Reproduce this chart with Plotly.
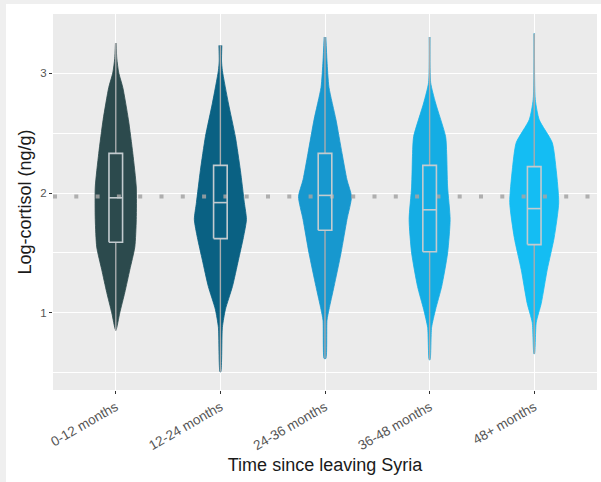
import plotly.graph_objects as go

# Groups on the x axis
categories = ["0-12 months", "12-24 months", "24-36 months", "36-48 months", "48+ months"]
violin_colors = ["#2c4a4d", "#0a6183", "#1798cf", "#14ade4", "#14bdf3"]

# Violin outlines: log-cortisol levels and density half-widths (category units)
dens_y_1 = [3.25, 3.12, 3.00, 2.88, 2.61, 2.33, 2.05, 1.78, 1.55, 1.36, 1.17, 1.00, 0.86]
dens_w_1 = [0.003, 0.010, 0.029, 0.067, 0.121, 0.163, 0.196, 0.196, 0.182, 0.134, 0.086, 0.038, 0.003]
dens_y_2 = [3.23, 3.10, 3.02, 2.75, 2.47, 2.19, 1.92, 1.78, 1.63, 1.44, 1.22, 1.03, 0.88, 0.51]
dens_w_2 = [0.014, 0.011, 0.019, 0.076, 0.143, 0.191, 0.229, 0.249, 0.220, 0.172, 0.115, 0.048, 0.019, 0.004]
dens_y_3 = [3.30, 3.10, 2.88, 2.61, 2.33, 2.11, 1.97, 1.78, 1.50, 1.22, 1.03, 0.94, 0.62]
dens_w_3 = [0.008, 0.019, 0.038, 0.105, 0.163, 0.210, 0.253, 0.210, 0.153, 0.086, 0.038, 0.019, 0.008]
dens_y_4 = [3.30, 2.92, 2.75, 2.47, 2.33, 2.05, 1.78, 1.50, 1.22, 1.03, 0.88, 0.61]
dens_w_4 = [0.004, 0.010, 0.057, 0.153, 0.163, 0.172, 0.196, 0.172, 0.115, 0.057, 0.019, 0.004]
dens_y_5 = [3.33, 2.78, 2.61, 2.42, 2.19, 1.92, 1.63, 1.36, 1.08, 0.92, 0.66]
dens_w_5 = [0.003, 0.010, 0.048, 0.172, 0.210, 0.234, 0.191, 0.124, 0.067, 0.019, 0.003]

# Box-plot summaries per group
q1 = [1.59, 1.62, 1.69, 1.51, 1.57]
median = [1.96, 1.92, 1.98, 1.86, 1.87]
q3 = [2.33, 2.23, 2.33, 2.23, 2.22]
whisker_lo = [0.85, 0.51, 0.62, 0.61, 0.66]
whisker_hi = [3.25, 3.23, 3.30, 3.30, 3.33]

# Overall reference level (dotted line)
overall_ref = 1.97

y_ticks = [1, 2, 3]
y_minor = [0.5, 1.5, 2.5, 3.5]

dens_y = [dens_y_1, dens_y_2, dens_y_3, dens_y_4, dens_y_5]
dens_w = [dens_w_1, dens_w_2, dens_w_3, dens_w_4, dens_w_5]

BOX_HALF = 0.065
FONT = "Liberation Sans, Arial, sans-serif"

fig = go.Figure()

# Violins
for i, (ys, ws) in enumerate(zip(dens_y, dens_w)):
    xs = [i + w for w in ws] + [i - w for w in reversed(ws)]
    yy = list(ys) + list(reversed(ys))
    fig.add_trace(go.Scatter(
        x=xs, y=yy, mode="lines", fill="toself",
        fillcolor=violin_colors[i],
        line=dict(color=violin_colors[i], width=0.8, shape="spline", smoothing=0.6),
        hoverinfo="skip", showlegend=False,
    ))

# Dotted reference line
fig.add_trace(go.Scatter(
    x=[-0.6, len(categories) - 0.4], y=[overall_ref, overall_ref], mode="lines",
    line=dict(color="rgba(165,165,165,0.85)", width=4, dash="4px,17.3px"),
    hoverinfo="skip", showlegend=False,
))

# Whiskers
wx, wy = [], []
for i in range(len(categories)):
    wx += [i, i, None, i, i, None]
    wy += [whisker_lo[i], q1[i], None, q3[i], whisker_hi[i], None]
fig.add_trace(go.Scatter(
    x=wx, y=wy, mode="lines", line=dict(color="#a9acae", width=1.4),
    hoverinfo="skip", showlegend=False,
))

# Boxes with median bars
bx, by = [], []
for i in range(len(categories)):
    l, r = i - BOX_HALF, i + BOX_HALF
    bx += [l, r, r, l, l, None, l, r, None]
    by += [q1[i], q1[i], q3[i], q3[i], q1[i], None, median[i], median[i], None]
fig.add_trace(go.Scatter(
    x=bx, y=by, mode="lines", line=dict(color="#c3cbcf", width=1.6),
    hoverinfo="skip", showlegend=False,
))

W, H = 601, 482
ML, MR, MT, MB = 53, 4, 14, 92
pw, ph = W - ML - MR, H - MT - MB


def px_x(p):
    return (p - ML) / pw


def px_y(p):
    return (H - MB - p) / ph


fig.update_layout(
    width=W, height=H,
    margin=dict(l=ML, r=MR, t=MT, b=MB, pad=0),
    paper_bgcolor="white",
    plot_bgcolor="#ebebeb",
    font=dict(family=FONT, color="#4d4d4d"),
    showlegend=False,
    shapes=[
        dict(type="rect", xref="paper", yref="paper",
             x0=px_x(0), x1=px_x(6), y0=px_y(H), y1=px_y(0),
             fillcolor="#efefef", line=dict(width=0), layer="below"),
        dict(type="rect", xref="paper", yref="paper",
             x0=px_x(0), x1=px_x(W), y0=px_y(4), y1=px_y(0),
             fillcolor="#efefef", line=dict(width=0), layer="below"),
    ],
    xaxis=dict(
        range=[-0.6, len(categories) - 0.4],
        tickmode="array", tickvals=list(range(len(categories))), ticktext=categories,
        tickangle=-30, tickfont=dict(size=13.5, color="#555555"),
        ticks="outside", ticklen=3, tickcolor="#333333", tickwidth=1,
        showgrid=True, gridcolor="white", gridwidth=1.3,
        zeroline=False, showline=False,
        title=dict(text="Time since leaving Syria", font=dict(size=18, color="#1a1a1a"), standoff=6),
    ),
    yaxis=dict(
        range=[0.358, 3.492],
        tickmode="array", tickvals=y_ticks,
        tickfont=dict(size=11.5, color="#555555"),
        ticks="outside", ticklen=3, tickcolor="#333333", tickwidth=1,
        showgrid=True, gridcolor="white", gridwidth=1.3,
        minor=dict(tickvals=y_minor, showgrid=True, gridcolor="white", gridwidth=0.6, ticklen=0),
        zeroline=False, showline=False,
        title=dict(text="Log-cortisol (ng/g)", font=dict(size=18, color="#1a1a1a"), standoff=3),
    ),
)

fig.write_html("out.html")
